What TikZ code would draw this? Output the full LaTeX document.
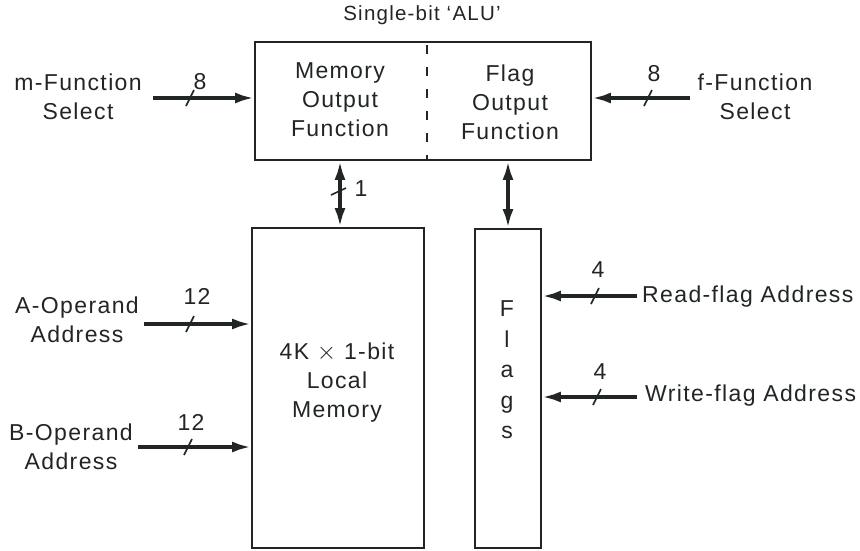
\documentclass[tikz,border=0pt]{standalone}
\usepackage{fontspec}
\setmainfont[LetterSpace=6]{Liberation Sans}
\usetikzlibrary{arrows.meta}
\definecolor{ink}{rgb}{0.13,0.15,0.14}
\begin{document}
\begin{tikzpicture}[x=1pt,y=-1pt,
  every node/.style={text=ink},
  lbl/.style={font=\fontsize{23}{29}\selectfont, align=center, inner sep=0pt},
  ttl/.style={font=\fontsize{20.5}{24}\selectfont, inner sep=0pt},
  blk/.style={draw=ink, line width=1.8pt, inner sep=0pt},
  bus/.style={draw=ink, line width=3.6pt, -{Latex[length=19pt,width=11pt]}},
  bibus/.style={draw=ink, line width=3.6pt, {Latex[length=19pt,width=11pt]}-{Latex[length=19pt,width=11pt]}},
  bustick/.pic={\draw[ink, line width=1.6pt] (-4pt,-8pt) -- (4pt,8pt);},
  vtick/.pic={\draw[ink, line width=1.6pt] (-9pt,-3pt) -- (6pt,4pt);}
]
\useasboundingbox[fill=white] (0,0) rectangle (860,550);

% blocks
\node[blk, minimum width=336pt, minimum height=118pt] (alu) at (423,101) {};
\node[blk, minimum width=172pt, minimum height=320pt] (mem) at (338,388) {};
\node[blk, minimum width=66pt, minimum height=319pt] (flags) at (508,388.5) {};
\draw[ink, line width=1.5pt, dash pattern=on 9pt off 13pt, dash phase=-4pt] (alu.north -| 427,0) -- (alu.south -| 427,0);

% texts inside
\node[ttl] (title) at (422,15) {Single-bit `ALU'};
\node[lbl] (mof) at (340,100) {Memory\\Output\\Function};
\node[lbl] (fof) at (510,102) {Flag\\Output\\Function};
\node[lbl] (memtxt) at (337,383) {4K $\times$ 1-bit\\Local\\Memory};
\node[lbl, font=\fontsize{23}{30.5}\selectfont] (flagtxt) at (507,370) {F\\l\\a\\g\\s};

% external labels
\node[lbl] (mfs) at (78,97) {m-Function\\Select};
\node[lbl] (ffs) at (755,97) {f-Function\\Select};
\node[lbl] (aop) at (77,320) {A-Operand\\Address};
\node[lbl] (bop) at (71,447) {B-Operand\\Address};
\node[lbl, anchor=west] (rfa) at (642,297) {Read-flag Address};
\node[lbl, anchor=west] (wfa) at (645,396) {Write-flag Address};

% bus width numbers
\node[lbl] (n8a) at (200,82) {8};
\node[lbl] (n8b) at (654,74) {8};
\node[lbl] (n1) at (361,189) {1};
\node[lbl] (n12a) at (197,296) {12};
\node[lbl] (n12b) at (191,422) {12};
\node[lbl] (n4a) at (598,270) {4};
\node[lbl] (n4b) at (600,372) {4};

% arrow tails
\coordinate (mt) at (153,98);
\coordinate (ft) at (690,98);
\coordinate (at) at (144,324);
\coordinate (bt) at (138,447);
\coordinate (rt) at (637,296);
\coordinate (wt) at (637,397);

% connectors
\draw[bus] (mt) -- (mt -| alu.west);
\draw[bus] (ft) -- (ft -| alu.east);
\draw[bus] (at) -- (at -| mem.west);
\draw[bus] (bt) -- (bt -| mem.west);
\draw[bus] (rt) -- (rt -| flags.east);
\draw[bus] (wt) -- (wt -| flags.east);
\draw[bibus] (alu.south -| 340,0) -- (mem.north -| 340,0);
\draw[bibus] (alu.south -| 508,0) -- (flags.north -| 508,0);

% bus ticks
\pic at (190,98) {bustick};
\pic at (648,98) {bustick};
\pic at (190,324) {bustick};
\pic at (188,447) {bustick};
\pic at (595,296) {bustick};
\pic at (597,397) {bustick};
\pic at (340,192) {vtick};
\end{tikzpicture}
\end{document}
